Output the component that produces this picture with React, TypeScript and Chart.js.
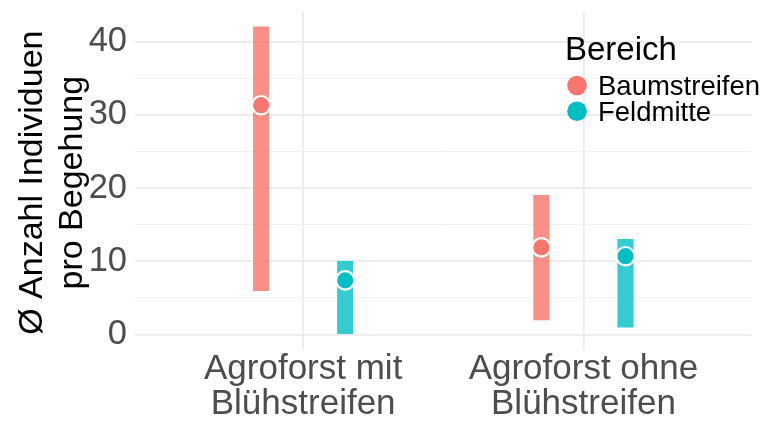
import { useEffect, useRef } from 'react';
import { Chart, registerables } from 'chart.js';

Chart.register(...registerables);

// Categories on the x axis (two-line labels)
const categories: string[][] = [
  ['Agroforst mit', 'Blühstreifen'],
  ['Agroforst ohne', 'Blühstreifen'],
];

// Series (Bereich)
const seriesNames = ['Baumstreifen', 'Feldmitte'];
const seriesColors = ['#F8766D', '#00BFC4'];
const rangeColors = ['rgba(248,118,109,0.82)', 'rgba(0,191,196,0.8)'];

// Mean and min–max range per category
const baumMean = [31.3, 11.9];
const baumLow = [6, 2];
const baumHigh = [42, 19];
const feldMean = [7.4, 10.7];
const feldLow = [0, 1];
const feldHigh = [10, 13];

// Axis ticks
const yMajorTicks = [0, 10, 20, 30, 40];
const yMinorTicks = [5, 15, 25, 35];
const yTitle = ['Ø Anzahl Individuen', 'pro Begehung'];
const legendTitle = 'Bereich';

const FONT = '"Liberation Sans", Arial, Helvetica, sans-serif';
const DODGE = 0.3;

const means = [baumMean, feldMean];
const lows = [baumLow, feldLow];
const highs = [baumHigh, feldHigh];

// position of a series within its category group
const dodgeX = (catIndex: number, seriesIndex: number) =>
  catIndex + 1 + (seriesIndex - (seriesNames.length - 1) / 2) * (DODGE / (seriesNames.length - 1));

const yAxisTitlePlugin = {
  id: 'yAxisTitle',
  afterDraw(chart: any) {
    const { ctx, chartArea } = chart;
    const cy = (chartArea.top + chartArea.bottom) / 2 + 2;
    ctx.save();
    ctx.font = `34px ${FONT}`;
    ctx.fillStyle = '#000000';
    ctx.textAlign = 'center';
    ctx.textBaseline = 'alphabetic';
    yTitle.forEach((line, i) => {
      ctx.save();
      ctx.translate(42 + i * 40, cy);
      ctx.rotate(-Math.PI / 2);
      ctx.fillText(line, 0, 0);
      ctx.restore();
    });
    ctx.restore();
  },
};

const legendPlugin = {
  id: 'bereichLegend',
  afterDraw(chart: any) {
    const { ctx } = chart;
    ctx.save();
    ctx.fillStyle = '#000000';
    ctx.textAlign = 'left';
    ctx.textBaseline = 'alphabetic';
    ctx.font = `33px ${FONT}`;
    ctx.fillText(legendTitle, 565, 60);
    ctx.font = `27.5px ${FONT}`;
    seriesNames.forEach((name, i) => {
      const cy = 85.5 + i * 25.8;
      ctx.beginPath();
      ctx.arc(577, cy, 9.8, 0, Math.PI * 2);
      ctx.fillStyle = seriesColors[i];
      ctx.fill();
      ctx.fillStyle = '#000000';
      ctx.fillText(name, 598, cy + 9.6);
    });
    ctx.restore();
  },
};

export default function App() {
  const canvasRef = useRef<HTMLCanvasElement | null>(null);

  useEffect(() => {
    if (!canvasRef.current) return;

    const rangeSets = seriesNames.map((name, s) => ({
      type: 'bar' as const,
      label: name,
      data: categories.map((_, c) => ({ x: dodgeX(c, s), y: [lows[s][c], highs[s][c]] })),
      backgroundColor: rangeColors[s],
      borderWidth: 0,
      barThickness: 15.5,
      grouped: false,
      order: 2,
    }));

    const pointSets = seriesNames.map((name, s) => ({
      type: 'scatter' as const,
      label: name,
      data: categories.map((_, c) => ({ x: dodgeX(c, s), y: means[s][c] })),
      pointRadius: 9.2,
      pointBorderWidth: 2.2,
      pointBorderColor: '#FFFFFF',
      pointBackgroundColor: seriesColors[s],
      order: 0,
    }));

    const chart = new Chart(canvasRef.current, {
      type: 'bar',
      data: { datasets: [...rangeSets, ...pointSets] as any },
      plugins: [yAxisTitlePlugin, legendPlugin],
      options: {
        animation: false,
        responsive: false,
        devicePixelRatio: 1,
        layout: { padding: { top: 10, right: 7, left: 0, bottom: 0 } },
        plugins: {
          legend: { display: false },
          tooltip: { enabled: false },
        },
        scales: {
          x: {
            type: 'linear',
            min: 0.4,
            max: 2.6,
            offset: false,
            border: { display: false },
            grid: {
              offset: false,
              drawTicks: false,
              color: '#EBEBEB',
              lineWidth: 1.7,
            },
            afterBuildTicks: (scale: any) => {
              scale.ticks = categories.map((_, i) => ({ value: i + 1 }));
            },
            afterFit: (scale: any) => {
              scale.height = 75;
              scale.paddingLeft = 0;
              scale.paddingRight = 0;
            },
            ticks: {
              autoSkip: false,
              maxRotation: 0,
              minRotation: 0,
              padding: 2,
              color: '#4D4D4D',
              font: { family: FONT, size: 35, lineHeight: 1.0 },
              callback: (value: any) => categories[Math.round(Number(value)) - 1] ?? '',
            },
          },
          y: {
            type: 'linear',
            min: -2.1,
            max: 44.1,
            beginAtZero: false,
            border: { display: false },
            grid: {
              drawTicks: false,
              color: (ctx: any) =>
                ctx.tick && yMinorTicks.includes(ctx.tick.value) ? '#F2F2F2' : '#EBEBEB',
              lineWidth: (ctx: any) =>
                ctx.tick && yMinorTicks.includes(ctx.tick.value) ? 1 : 1.7,
            },
            afterBuildTicks: (scale: any) => {
              scale.ticks = [...yMajorTicks, ...yMinorTicks]
                .sort((a, b) => a - b)
                .map((v) => ({ value: v }));
            },
            afterFit: (scale: any) => {
              scale.width = 135;
              scale.paddingTop = 0;
              scale.paddingBottom = 0;
            },
            ticks: {
              autoSkip: false,
              padding: 8,
              color: '#4D4D4D',
              font: { family: FONT, size: 34.5 },
              callback: (value: any) => (yMajorTicks.includes(Number(value)) ? String(value) : ''),
            },
          },
        },
      } as any,
    });

    return () => chart.destroy();
  }, []);

  return (
    <div style={{ position: 'absolute', left: 0, top: 0, width: 763, height: 425, background: '#FFFFFF' }}>
      <canvas ref={canvasRef} width={763} height={425} style={{ display: 'block' }} />
    </div>
  );
}
